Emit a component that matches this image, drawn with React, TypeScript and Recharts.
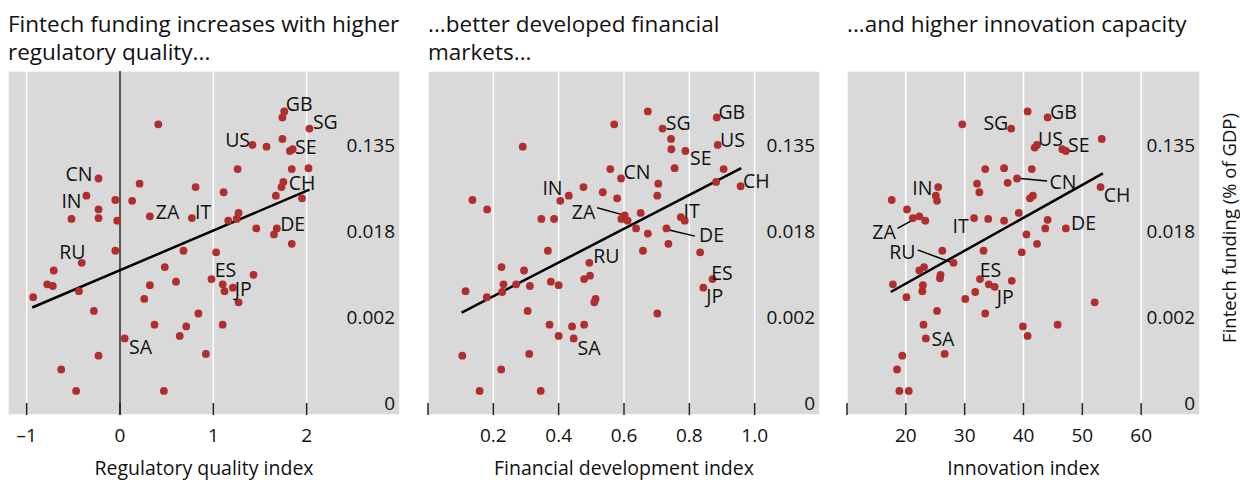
import React from "react";
import { ScatterChart, Scatter, XAxis, YAxis, CartesianGrid, ReferenceLine } from "recharts";

// y values are on the chart's compressed funding scale: 0 -> 0, 1 -> 0.002, 2 -> 0.018, 3 -> 0.135
const fundingTicks = [0, 1, 2, 3];
const fundingLabels = ["0", "0.002", "0.018", "0.135"];

const regulatoryTicks = [-1, 0, 1, 2];
const financialTicks = [0, 0.2, 0.4, 0.6, 0.8, 1.0];
const innovationTicks = [10, 20, 30, 40, 50, 60];

const regulatoryPoints: [number, number][] = [
  [0.41, 3.38], [1.76, 3.53], [1.74, 3.46], [2.03, 3.33], [1.74, 3.21], [1.42, 3.14], [1.57, 3.12],
  [1.82, 3.07], [1.85, 3.09], [1.26, 2.86], [1.84, 2.86], [2.02, 2.87], [-0.23, 2.75], [0.21, 2.69],
  [0.81, 2.65], [1.75, 2.71], [1.73, 2.65], [1.11, 2.59], [1.67, 2.55], [1.95, 2.52], [-0.36, 2.55],
  [-0.05, 2.5], [0.13, 2.49], [-0.23, 2.39], [-0.52, 2.28], [-0.23, 2.29], [-0.03, 2.26], [0.32, 2.31],
  [0.77, 2.29], [1.27, 2.35], [1.16, 2.26], [1.25, 2.28], [1.46, 2.17], [1.68, 2.17], [1.65, 2.1],
  [1.84, 1.99], [-0.05, 1.91], [0.68, 1.91], [1.03, 1.89], [-0.41, 1.77], [-0.71, 1.68], [0.48, 1.72],
  [0.98, 1.58], [1.43, 1.63], [-0.78, 1.52], [-0.72, 1.5], [0.32, 1.51], [0.6, 1.55], [1.1, 1.52],
  [1.12, 1.44], [1.21, 1.48], [-0.44, 1.44], [-0.93, 1.37], [0.26, 1.35], [1.27, 1.31], [-0.28, 1.21],
  [0.84, 1.18], [0.37, 1.05], [0.71, 1.03], [1.1, 1.05], [0.64, 0.92], [0.05, 0.89], [-0.23, 0.69],
  [0.92, 0.71], [-0.63, 0.53], [-0.47, 0.28], [0.47, 0.28],
];

const financialPoints: [number, number][] = [
  [0.673, 3.53], [0.884, 3.46], [0.57, 3.38], [0.718, 3.33], [0.744, 3.21], [0.887, 3.14], [0.29, 3.12],
  [0.745, 3.09], [0.788, 3.07], [0.558, 2.86], [0.755, 2.87], [0.905, 2.86], [0.591, 2.75], [0.705, 2.69],
  [0.882, 2.71], [0.957, 2.66], [0.476, 2.65], [0.535, 2.59], [0.702, 2.55], [0.431, 2.55], [0.579, 2.52],
  [0.405, 2.49], [0.136, 2.5], [0.181, 2.39], [0.347, 2.28], [0.386, 2.28], [0.602, 2.32], [0.592, 2.28],
  [0.611, 2.26], [0.651, 2.35], [0.774, 2.3], [0.786, 2.26], [0.637, 2.17], [0.673, 2.11], [0.73, 2.17],
  [0.736, 1.99], [0.367, 1.91], [0.658, 1.91], [0.833, 1.89], [0.494, 1.77], [0.225, 1.72], [0.294, 1.68],
  [0.496, 1.62], [0.871, 1.58], [0.843, 1.48], [0.231, 1.52], [0.27, 1.52], [0.312, 1.5], [0.376, 1.55],
  [0.4, 1.51], [0.478, 1.58], [0.115, 1.44], [0.227, 1.43], [0.18, 1.37], [0.513, 1.35], [0.509, 1.31],
  [0.305, 1.21], [0.702, 1.18], [0.372, 1.05], [0.441, 1.03], [0.478, 1.05], [0.4, 0.92], [0.446, 0.89],
  [0.105, 0.69], [0.31, 0.71], [0.224, 0.53], [0.158, 0.28], [0.345, 0.28],
];

const innovationPoints: [number, number][] = [
  [40.7, 3.53], [44.1, 3.46], [29.6, 3.38], [37.9, 3.33], [53.3, 3.21], [41.9, 3.11], [42.3, 3.14],
  [46.6, 3.09], [47.2, 3.07], [33.5, 2.86], [36.7, 2.87], [41.4, 2.86], [38.9, 2.75], [32.1, 2.69],
  [37.3, 2.7], [53.1, 2.65], [25.5, 2.65], [32.5, 2.59], [41.1, 2.52], [41.6, 2.55], [25.1, 2.55],
  [25.3, 2.49], [17.6, 2.5], [20.2, 2.39], [21.2, 2.29], [22.3, 2.31], [23.3, 2.26], [31.6, 2.29],
  [34.0, 2.28], [36.7, 2.26], [39.2, 2.35], [44.1, 2.27], [43.7, 2.17], [47.2, 2.17], [40.5, 2.1],
  [42.3, 1.99], [26.2, 1.91], [33.2, 1.91], [39.7, 1.89], [28.1, 1.77], [22.3, 1.68], [23.1, 1.72],
  [25.9, 1.63], [25.8, 1.59], [32.6, 1.58], [38.0, 1.56], [17.8, 1.52], [22.9, 1.51], [22.8, 1.44],
  [34.1, 1.52], [35.1, 1.49], [31.8, 1.43], [20.1, 1.37], [30.1, 1.35], [52.1, 1.31], [25.3, 1.21],
  [33.5, 1.18], [23.0, 1.05], [39.9, 1.03], [45.8, 1.05], [40.7, 0.92], [23.4, 0.89], [19.4, 0.69],
  [26.6, 0.71], [18.5, 0.53], [18.9, 0.28], [20.5, 0.28],
];

// country labels: [name, x, y] in data units
const regulatoryLabels: [string, number, number][] = [
  ["GB", 1.92, 3.62], ["SG", 2.2, 3.41], ["US", 1.26, 3.2], ["SE", 1.99, 3.12], ["CN", -0.44, 2.81],
  ["CH", 1.95, 2.7], ["IN", -0.52, 2.49], ["ZA", 0.51, 2.37], ["IT", 0.89, 2.37], ["DE", 1.85, 2.23],
  ["RU", -0.51, 1.9], ["ES", 1.13, 1.69], ["JP", 1.32, 1.47], ["SA", 0.22, 0.8],
];
const financialLabels: [string, number, number][] = [
  ["GB", 0.93, 3.53], ["SG", 0.766, 3.4], ["US", 0.932, 3.2], ["SE", 0.835, 3.0], ["CN", 0.64, 2.83],
  ["CH", 1.005, 2.73], ["IN", 0.381, 2.64], ["ZA", 0.476, 2.37], ["IT", 0.807, 2.38], ["DE", 0.868, 2.1],
  ["RU", 0.546, 1.86], ["ES", 0.9, 1.66], ["JP", 0.878, 1.39], ["SA", 0.493, 0.79],
];
const innovationLabels: [string, number, number][] = [
  ["GB", 46.8, 3.53], ["SG", 35.3, 3.4], ["US", 44.6, 3.21], ["SE", 49.4, 3.14], ["CN", 46.7, 2.72],
  ["CH", 55.9, 2.56], ["IN", 22.8, 2.64], ["ZA", 16.3, 2.13], ["IT", 29.3, 2.2], ["DE", 50.2, 2.24],
  ["RU", 19.4, 1.9], ["ES", 34.4, 1.69], ["JP", 36.9, 1.38], ["SA", 26.3, 0.89],
];

// leader lines: [x1, y1, x2, y2]
const financialLeaders: [number, number, number, number][] = [
  [0.518, 2.41, 0.594, 2.33],
  [0.738, 2.15, 0.817, 2.08],
];
const innovationLeaders: [number, number, number, number][] = [
  [39.5, 2.75, 44.0, 2.72],
  [18.6, 2.17, 22.3, 2.31],
  [22.0, 1.92, 27.9, 1.77],
];

// fitted lines: [x1, y1, x2, y2]
const regulatoryFit: [number, number, number, number] = [-0.94, 1.25, 2.03, 2.62];
const financialFit: [number, number, number, number] = [0.103, 1.19, 0.959, 2.87];
const innovationFit: [number, number, number, number] = [17.44, 1.43, 53.5, 2.81];

const RED = "#B02E2E";
const INK = "#111";
const FONT = "'Open Sans', 'Noto Sans', sans-serif";

type PanelProps = {
  left: number;
  width: number;
  marginRight: number;
  domain: [number, number];
  ticks: number[];
  hiddenTicks: number[];
  tickFormat: (v: number) => string;
  points: [number, number][];
  labels: [string, number, number][];
  leaders: [number, number, number, number][];
  fit: [number, number, number, number];
  xTitle: string;
  zeroLine?: boolean;
};

function Panel(p: PanelProps) {
  const dots = p.points.map(([x, y]) => ({ x, y }));
  const names = p.labels.map(([name, x, y]) => ({ name, x, y }));

  const XTick = ({ x, y, payload }: any) => (
    <g>
      <line x1={x} x2={x} y1={y - 12} y2={y} stroke="#222" strokeWidth={1.5} />
      {!p.hiddenTicks.includes(payload.value) && (
        <text x={x} y={y + 27} textAnchor="middle" fontSize={19} fill={INK} fontFamily={FONT}>
          {p.tickFormat(payload.value)}
        </text>
      )}
    </g>
  );

  return (
    <div style={{ position: "absolute", left: p.left, top: 0 }}>
      <ScatterChart width={p.width} height={480} margin={{ top: 71, left: 8, right: p.marginRight, bottom: 0 }}>
        <CartesianGrid fill="#D9D9D9" stroke="#FFFFFF" strokeWidth={1.5} />
        <XAxis
          type="number"
          dataKey="x"
          domain={p.domain}
          ticks={p.ticks}
          interval={0}
          height={65}
          axisLine={false}
          tickLine={false}
          tickSize={0}
          tickMargin={0}
          tick={<XTick />}
          allowDataOverflow
          label={{ value: p.xTitle, position: "insideBottom", offset: 5, fontSize: 19.5, fill: INK, fontFamily: FONT }}
        />
        <YAxis
          type="number"
          dataKey="y"
          orientation="right"
          width={0}
          domain={[0, 4]}
          ticks={fundingTicks}
          interval={0}
          axisLine={false}
          tickLine={false}
          tick={false}
          allowDataOverflow
        />
        {fundingTicks.map((t, i) => (
          <ReferenceLine
            key={"yl" + t}
            y={t}
            stroke="none"
            label={{
              value: fundingLabels[i],
              position: "insideBottomRight",
              offset: 5,
              fontSize: 19,
              fill: INK,
              fontFamily: FONT,
            }}
          />
        ))}
        {p.zeroLine && <ReferenceLine x={0} stroke="#000" strokeWidth={1.3} />}
        <Scatter
          data={dots}
          isAnimationActive={false}
          shape={(s: any) => <circle cx={s.cx} cy={s.cy} r={3.9} fill={RED} />}
        />
        <ReferenceLine
          segment={[{ x: p.fit[0], y: p.fit[1] }, { x: p.fit[2], y: p.fit[3] }]}
          stroke="#000"
          strokeWidth={2.5}
        />
        {p.leaders.map((l, i) => (
          <ReferenceLine
            key={i}
            segment={[{ x: l[0], y: l[1] }, { x: l[2], y: l[3] }]}
            stroke="#000"
            strokeWidth={1.5}
          />
        ))}
        <Scatter
          data={names}
          isAnimationActive={false}
          shape={(s: any) => (
            <text
              x={s.cx}
              y={s.cy}
              textAnchor="middle"
              dominantBaseline="central"
              fontSize={19.5}
              fill={INK}
              fontFamily={FONT}
            >
              {s.payload.name}
            </text>
          )}
        />
      </ScatterChart>
    </div>
  );
}

export default function App() {
  return (
    <div style={{ position: "absolute", left: 0, top: 0, width: 1240, height: 480, background: "#fff", fontFamily: FONT }}>
      <Panel
        left={0}
        width={410}
        marginRight={10}
        domain={[-1.2, 3]}
        ticks={regulatoryTicks}
        hiddenTicks={[]}
        tickFormat={(v) => (v < 0 ? "\u2013" + Math.abs(v) : String(v))}
        points={regulatoryPoints}
        labels={regulatoryLabels}
        leaders={[]}
        fit={regulatoryFit}
        xTitle="Regulatory quality index"
        zeroLine
      />
      <Panel
        left={420}
        width={410}
        marginRight={10}
        domain={[0, 1.2]}
        ticks={financialTicks}
        hiddenTicks={[0]}
        tickFormat={(v) => v.toFixed(1)}
        points={financialPoints}
        labels={financialLabels}
        leaders={financialLeaders}
        fit={financialFit}
        xTitle="Financial development index"
      />
      <Panel
        left={839}
        width={401}
        marginRight={40}
        domain={[10, 70]}
        ticks={innovationTicks}
        hiddenTicks={[10]}
        tickFormat={(v) => String(v)}
        points={innovationPoints}
        labels={innovationLabels}
        leaders={innovationLeaders}
        fit={innovationFit}
        xTitle="Innovation index"
      />
      <svg width={1240} height={70} style={{ position: "absolute", left: 0, top: 0 }}>
        <g fontSize={22.5} fill={INK} fontFamily={FONT}>
          <text x={8} y={32}>Fintech funding increases with higher</text>
          <text x={8} y={60}>regulatory quality...</text>
          <text x={428} y={32}>...better developed financial</text>
          <text x={428} y={60}>markets...</text>
          <text x={847} y={32}>...and higher innovation capacity</text>
        </g>
      </svg>
      <svg width={40} height={480} style={{ position: "absolute", left: 1200, top: 0 }}>
        <text
          x={28}
          y={228}
          transform="rotate(-90 28 228)"
          textAnchor="middle"
          dominantBaseline="central"
          fontSize={18.5}
          fill={INK}
          fontFamily={FONT}
        >
          Fintech funding (% of GDP)
        </text>
      </svg>
    </div>
  );
}
